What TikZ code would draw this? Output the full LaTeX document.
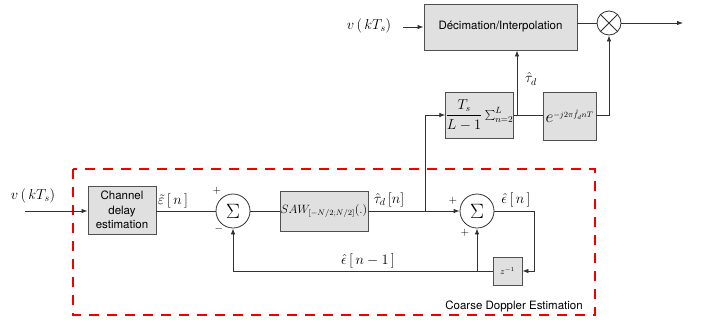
\documentclass[tikz,border=0pt]{standalone}
\usepackage{fontspec}
\setsansfont{TeX Gyre Heros}
\usetikzlibrary{arrows.meta,calc}
\definecolor{boxfill}{RGB}{224,224,224}
\definecolor{boxline}{RGB}{80,80,80}
\definecolor{wire}{RGB}{50,50,50}
\definecolor{dashred}{RGB}{240,0,0}
\begin{document}
\begin{tikzpicture}[x=1pt,y=-1pt,
  blk/.style={draw=boxline,fill=boxfill,line width=0.9pt,inner sep=0pt},
  sumc/.style={draw=wire,fill=white,circle,line width=0.8pt,minimum size=34pt,inner sep=0pt,font=\fontsize{22}{24}\selectfont},
  multc/.style={draw=wire,fill=white,circle,line width=0.8pt,minimum size=24pt,inner sep=0pt},
  wire/.style={draw=wire,line width=0.8pt},
  arr/.style={wire,-{Latex[length=6pt,width=4.5pt]}},
  txt/.style={font=\sffamily\fontsize{11.5}{14.5}\selectfont,align=center},
  mlab/.style={font=\fontsize{14}{16}\selectfont,inner sep=0pt},
  bmath/.style={font=\fontsize{13.5}{15}\selectfont},
  sgn/.style={font=\fontsize{11}{12}\selectfont,inner sep=0pt}]
\useasboundingbox (0,0) rectangle (706,325);

% dashed estimation region
\draw[dashred,line width=2pt,dash pattern=on 10pt off 8pt] (73,169) rectangle (595,315);
\node[txt,inner sep=0pt] (cde) at (514,306) {Coarse Doppler Estimation};

% top part
\node[blk,minimum width=153pt,minimum height=46pt,txt] (dec) at (500.5,27) {D\'ecimation/Interpolation};
\node[multc] (mult) at (609,23) {};
\draw[wire] (mult.north west) -- (mult.south east) (mult.north east) -- (mult.south west);
\node[mlab] (vtop) at (369,26) {$v\left(\,kT_{s}\right)$};
\coordinate (vta) at (403,27);
\coordinate (out) at (683,23);
\draw[arr] (vta) -- (dec.west |- vta);
\draw[wire] (dec.east |- mult) -- (mult.west);
\draw[arr] (mult.east) -- (out);

\node[blk,minimum width=65pt,minimum height=46pt,bmath] (avg) at (479.5,115)
  {$\displaystyle\frac{T_{s}}{L-1}\textstyle\sum_{n=2}^{L}$};
\node[blk,minimum width=53pt,minimum height=48pt,font=\fontsize{12}{14}\selectfont] (exp) at (569.5,116)
  {$\hbox{\fontsize{17}{19}\selectfont$e$}^{-j2\pi\hat{f}_{d}nT}$};
\coordinate (br) at (517,115);
\draw[wire] (avg.east) -- (exp.west |- avg.east);
\draw[arr] (br) -- (br |- dec.south);
\node[mlab] (taud) at (531,79) {$\hat{\tau}_{d}$};
\draw[arr] (exp.east |- avg.east) -| (mult.south);

% bottom part
\node[mlab] (vbot) at (33,196) {$v\left(\,kT_{s}\right)$};
\coordinate (vin) at (25,211);
\node[blk,minimum width=68pt,minimum height=48pt,txt] (chan) at (122,210) {Channel\\delay\\estimation};
\node[sumc] (s1) at (233,211) {$\Sigma$};
\node[blk,minimum width=88pt,minimum height=40pt,font=\fontsize{11.5}{13}\selectfont] (saw) at (324,211) {$SAW_{\left[-N/2;N/2\right]}(.)$};
\node[sumc] (s2) at (477,211) {$\Sigma$};
\node[blk,minimum width=29pt,minimum height=28pt,font=\small] (z) at (507.5,271) {$z^{-1}$};

\draw[arr] (vin) -- (chan.west |- vin);
\draw[wire] (chan.east |- s1) -- (s1.west);
\draw[wire] (s1.east) -- (saw.west);
\draw[arr] (saw.east) -- (s2.west);
\coordinate (j1) at (425,211);
\draw[arr] (j1) |- (avg.west);
\coordinate (c2) at (534,211);
\draw[wire] (s2.east) -- (c2);
\draw[arr] (c2) |- (z.east);
\draw[arr] (z.west) -| (s1.south);
\coordinate (j2) at (s2 |- z);
\draw[arr] (j2) -- (s2.south);

% labels
\node[sgn] (p1) at (217,191) {$+$};
\node[sgn] (m1) at (219,229) {$-$};
\node[sgn] (p2) at (453,201) {$+$};
\node[sgn] (p3) at (465,233) {$+$};
\node[mlab] (etil) at (173,201) {$\tilde{\varepsilon}\left[\,n\,\right]$};
\node[mlab] (tdn) at (389,200) {$\hat{\tau}_{d}\left[n\right]$};
\node[mlab] (ehat) at (516,200) {$\hat{\epsilon}\left[\,n\,\right]$};
\node[mlab] (ehat1) at (368,261) {$\hat{\epsilon}\left[\,n-1\,\right]$};
\end{tikzpicture}
\end{document}
